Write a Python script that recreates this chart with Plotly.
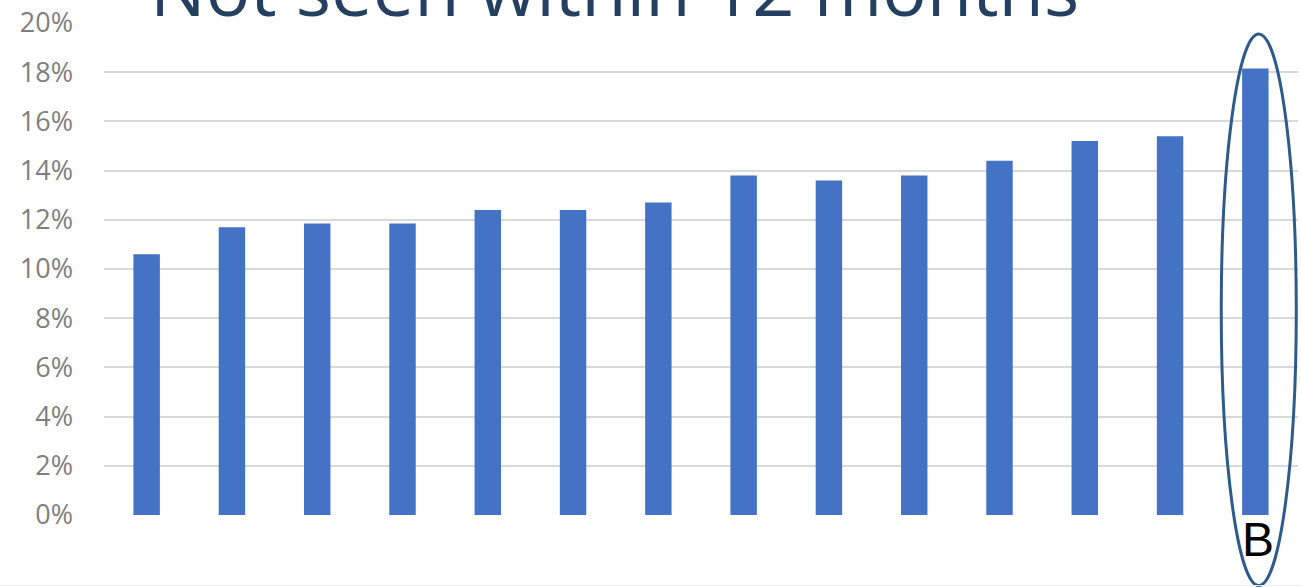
import plotly.graph_objects as go

categories = [f"c{i}" for i in range(1, 15)]
values = [10.6, 11.7, 11.85, 11.85, 12.4, 12.4, 12.7, 13.8, 13.6, 13.8, 14.4, 15.2, 15.4, 18.15]
tick_vals = [0, 2, 4, 6, 8, 10, 12, 14, 16, 18, 20]
tick_text = [f"{v}%" for v in tick_vals]
title_text = "Not seen within 12 months"
highlight_label = "B"
highlight_index = 13

n = len(categories)
plot_h = 495.0
plot_w = 1194.0

fig = go.Figure()
fig.add_trace(go.Bar(
    x=categories, y=values,
    marker=dict(color="#4472C4", line=dict(width=0)),
    width=0.31,
    hoverinfo="skip",
))

fig.update_layout(
    width=1301, height=587,
    margin=dict(l=104, r=3, t=20, b=72),
    paper_bgcolor="white", plot_bgcolor="white",
    showlegend=False,
    xaxis=dict(showticklabels=False, showgrid=False, zeroline=False,
               showline=False, ticks="", range=[-0.5, n - 0.5]),
    yaxis=dict(range=[0, 20], tickvals=tick_vals, ticktext=tick_text,
               showgrid=True, gridcolor="#d9d9d9", gridwidth=2,
               zeroline=False, showline=False, ticks="",
               ticklabelstandoff=30,
               tickfont=dict(family="Open Sans", size=27, color="#7f7f7f")),
)

# Title (partially cut off at top)
fig.add_annotation(
    text=title_text, xref="paper", yref="paper",
    x=(148 - 104) / plot_w, y=1 - 17 / plot_h,
    xanchor="left", yanchor="bottom", showarrow=False,
    font=dict(family="Open Sans", size=74, color="#243F60"),
)

# Ellipse around last bar (domain/paper refs so it is not clipped)
cx = (highlight_index + 0.5) / n
fig.add_shape(type="circle", xref="x domain", yref="paper",
              x0=cx - 0.40 / n, x1=cx + 0.48 / n,
              y0=-71 / plot_h, y1=1 - 11 / plot_h,
              line=dict(color="#2F5B8A", width=3))

fig.add_annotation(
    text=highlight_label, xref="x", yref="paper",
    x=categories[highlight_index], xshift=3, y=-25 / plot_h,
    xanchor="center", yanchor="middle",
    showarrow=False,
    font=dict(family="Liberation Sans", size=48, color="black"),
)

# faint bottom line
fig.add_shape(type="line", xref="paper", yref="paper",
              x0=-104 / plot_w, x1=1197 / plot_w, y0=-71 / plot_h, y1=-71 / plot_h,
              line=dict(color="#eeeeee", width=1))

fig.write_html("out.html")
